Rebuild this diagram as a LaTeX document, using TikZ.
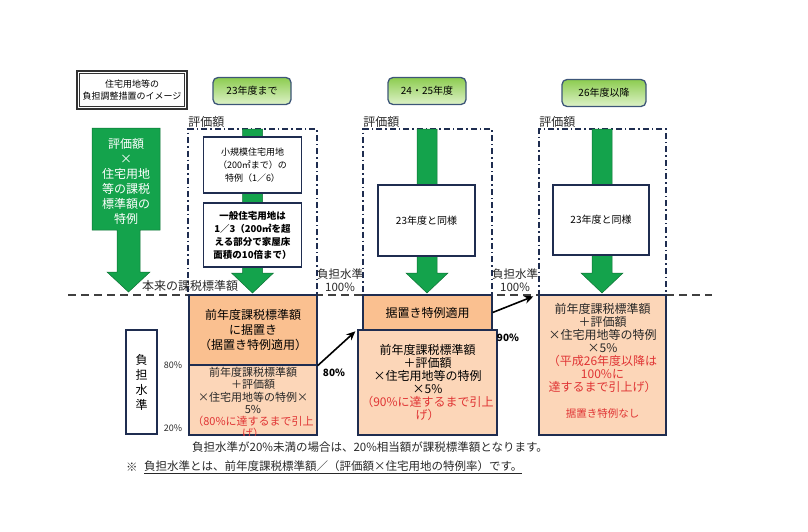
\documentclass[tikz,border=0pt]{standalone}
\usepackage{fontspec}
\setmainfont{Noto Sans CJK JP}
\usetikzlibrary{positioning, arrows, arrows.meta}

\newcommand{\fsz}[2]{\fontsize{#1}{#2}\selectfont}

\definecolor{navy}{RGB}{31,45,80}
\definecolor{hdrline}{RGB}{61,86,120}
\definecolor{hdrtop}{RGB}{140,204,80}
\definecolor{hdrbot}{RGB}{222,242,200}
\definecolor{arrgreen}{RGB}{20,163,76}
\definecolor{orangeD}{RGB}{250,192,144}
\definecolor{orangeL}{RGB}{252,214,184}
\definecolor{redtxt}{RGB}{224,52,52}
\definecolor{txt}{RGB}{40,40,40}

\tikzstyle{titlebox} = [rectangle, minimum width=110pt, minimum height=38pt, align=center, font=\fsz{9}{12}]
\tikzstyle{yearbox} = [rectangle, rounded corners=5pt, draw=hdrline, line width=1.3pt, top color=hdrtop, bottom color=hdrbot, minimum width=78pt, minimum height=27pt, font=\fsz{10}{12}]
\tikzstyle{evalframe} = [rectangle, draw=navy, line width=1.6pt, dash pattern=on 6pt off 3pt on 1.5pt off 3pt, minimum height=166pt]
\tikzstyle{whitebox} = [rectangle, draw=navy, line width=1.2pt, fill=white, align=center]
\tikzstyle{levelline} = [draw=black!75, line width=1.6pt, dash pattern=on 8pt off 5pt]
\tikzstyle{taxbox} = [rectangle, draw=navy, line width=1.3pt, align=center, font=\fsz{12}{13}]
\tikzstyle{greenarr} = [fill=arrgreen, draw=arrgreen!70!black, line width=0.5pt]
\tikzstyle{lbl} = [inner sep=1pt, align=center, text=txt, font=\fsz{11.5}{13}]
\tikzstyle{pct} = [font=\bfseries\fsz{10}{12}]
\tikzstyle{arrow} = [line width=1.6pt,-{Stealth[length=9pt,width=8pt]}]

\begin{document}
\begin{tikzpicture}[x=1pt, y=-1pt]
    \useasboundingbox (0,0) rectangle (808,531);

    % Title and year headers
    \node (title) [titlebox] at (132,90) {住宅用地等の\\負担調整措置のイメージ};
    \draw [black!80, line width=1.8pt] (title.north west) rectangle (title.south east);
    \draw [black!80, line width=0.5pt] ([shift={(2.8,2.8)}]title.north west) rectangle ([shift={(-2.8,-2.8)}]title.south east);
    \node (y23) [yearbox] at (252,91) {23年度まで};
    \node (y24) [yearbox] at (427,91) {24・25年度};
    \node (y26) [yearbox, minimum width=84pt] at (604,93) {26年度以降};

    % Base line
    \draw [levelline] (68,295) -- (712,295);

    % Frames
    \node (f1) [evalframe, minimum width=129pt] at (252.5,212) {};
    \node (f2) [evalframe, minimum width=129pt] at (427.5,212) {};
    \node (f3) [evalframe, minimum width=127pt] at (602.5,212) {};
    \foreach \f in {f1,f2,f3}
        \node [lbl, anchor=south west, font=\fsz{12}{13}] at (\f.north west) {評価額};

    % Green arrows
    \fill [greenarr] (92,128) -- (160,128) -- (160,230) -- (140,230) -- (140,272) -- (150,272)
        -- (128.5,292) -- (107,272) -- (117,272) -- (117,230) -- (92,230) -- cycle;
    \node (special) [align=center, text=white, font=\fsz{12}{15}] at (126,181)
        {評価額\\×\\住宅用地\\等の課税\\標準額の\\特例};
    \foreach \cx in {252.5,427,602}
        \fill [greenarr] (\cx-10,129) -- (\cx+10,129) -- (\cx+10,273) -- (\cx+21,273)
            -- (\cx,293) -- (\cx-21,273) -- (\cx-10,273) -- cycle;

    % Boxes in frames
    \node (small) [whitebox, minimum width=98pt, minimum height=56pt, font=\fsz{9}{13}] at (252.5,165)
        {小規模住宅用地\\（200㎡まで）の\\特例（1／6）};
    \node (general) [whitebox, minimum width=98pt, minimum height=64pt, font=\bfseries\fsz{9.5}{13}] at (252.5,235)
        {一般住宅用地は\\1／3（200㎡を超\\える部分で家屋床\\面積の10倍まで）};
    \node (same24) [whitebox, minimum width=97pt, minimum height=71pt, font=\fsz{10}{12}] at (426.5,220.5) {23年度と同様};
    \node (same26) [whitebox, minimum width=96pt, minimum height=70pt, font=\fsz{10}{12}] at (601,220) {23年度と同様};

    % Labels on base line
    \node (honrai) [lbl, anchor=south, font=\fsz{12}{13}] at (190,293) {本来の課税標準額};
    \node (lv1) [lbl] at (340,280) {負担水準\\100\%};
    \node (lv2) [lbl] at (515,280) {負担水準\\100\%};

    % Tax boxes
    \node (c1top) [taxbox, fill=orangeD, minimum width=128pt, minimum height=70pt, font=\fsz{12}{15}] at (253,330)
        {前年度課税標準額\\に据置き\\（据置き特例適用）};
    \node (c1bot) [taxbox, fill=orangeL, minimum width=128pt, minimum height=70pt] at (253,400) {};
    \begin{scope}
        \clip (c1bot.north west) rectangle (c1bot.south east);
        \node (c1text) [align=center, text=txt, font=\fsz{11}{12.2}] at (253,403)
            {前年度課税標準額\\＋評価額\\×住宅用地等の特例×\\5\%\\
             \textcolor{redtxt}{（80\%に達するまで引上}\\\textcolor{redtxt}{げ）}};
    \end{scope}
    \node (c2top) [taxbox, fill=orangeD, minimum width=129pt, minimum height=35pt] at (427.5,312.5) {据置き特例適用};
    \node (c2bot) [taxbox, fill=orangeL, minimum width=129pt, minimum height=105pt] at (427.5,382.5)
        {前年度課税標準額\\＋評価額\\×住宅用地等の特例\\×5\%\\
         \textcolor{redtxt}{（90\%に達するまで引上}\\\textcolor{redtxt}{げ）}};
    \node (c3) [taxbox, fill=orangeL, minimum width=127pt, minimum height=140pt] at (602.5,365) {};
    \node (c3text) [align=center, text=txt, font=\fsz{12}{13}] at (602.5,361)
        {前年度課税標準額\\＋評価額\\×住宅用地等の特例\\×5\%\\
         \textcolor{redtxt}{（平成26年度以降は}\\\textcolor{redtxt}{100\%に}\\\textcolor{redtxt}{達するまで引上げ）}\\[13pt]
         \textcolor{redtxt}{\fsz{10.5}{13}据置き特例なし}};

    % Level scale
    \node (level) [whitebox, minimum width=31pt, minimum height=104pt, font=\fsz{12}{15}] at (141.5,382) {負\\担\\水\\準};
    \node (p80l) [lbl, font=\fsz{9}{11}] at (173,365) {80\%};
    \node (p20l) [lbl, font=\fsz{9}{11}] at (173,428) {20\%};

    % Arrows
    \node (p80) [pct] at (334,373) {80\%};
    \node (p90) [pct] at (508,338) {90\%};
    \draw [arrow] (c1top.south east) -- ([shift={(-2,2)}]c2bot.north west);
    \draw [arrow] (c2top.east) -- ([shift={(-5,2)}]c3.north west);

    % Notes
    \node (note1) [lbl, anchor=west] at (191,447) {負担水準が20\%未満の場合は、20\%相当額が課税標準額となります。};
    \node (kome) [lbl, anchor=west] at (125,467) {※};
    \node (note2) [lbl, right=4pt of kome] {\underline{負担水準とは、前年度課税標準額／（評価額×住宅用地の特例率）です。}};

\end{tikzpicture}
\end{document}
